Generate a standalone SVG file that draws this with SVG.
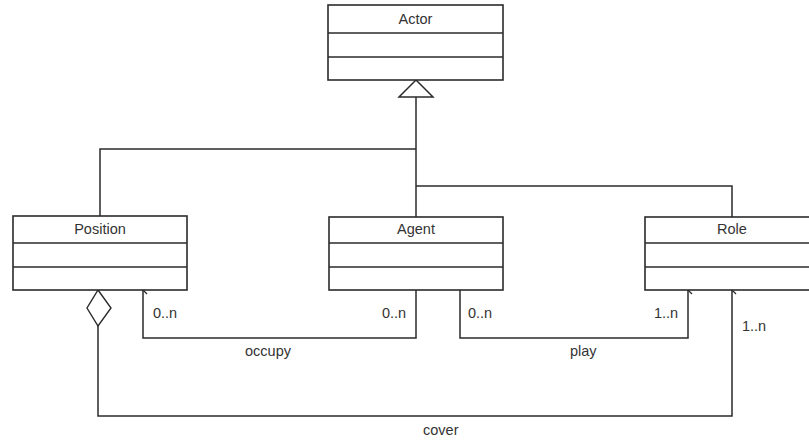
<svg xmlns="http://www.w3.org/2000/svg" width="809" height="444" viewBox="0 0 809 444">
  <style>
    .box { fill: #ffffff; stroke: #2b2b2b; stroke-width: 1.6; }
    .sep { stroke: #2b2b2b; stroke-width: 1.6; }
    .edge { fill: none; stroke: #2b2b2b; stroke-width: 1.5; }
    .name { font-family: "Liberation Sans", Arial, sans-serif; font-size: 14.5px; fill: #333333; text-anchor: middle; }
    .lbl { font-family: "Liberation Sans", Arial, sans-serif; font-size: 14.5px; fill: #333333; }
  </style>
  <defs>
    <marker id="open" viewBox="0 0 10 10" refX="5" refY="1" markerWidth="10" markerHeight="10" markerUnits="userSpaceOnUse" orient="auto-start-reverse">
      <path d="M1,5 L5,1 L9,5" fill="none" stroke="#2b2b2b" stroke-width="1.3"/>
    </marker>
  </defs>
  <rect width="809" height="444" fill="#ffffff"/>

  <!-- connectors -->
  <g id="connectors">
    <!-- generalization tree -->
    <polygon points="416,80 433,97 399,97" fill="#ffffff" stroke="#2b2b2b" stroke-width="1.5"/>
    <path class="edge" d="M416,97 V217" stroke-width="2"/>
    <path class="edge" d="M416,149 H100 V216"/>
    <path class="edge" d="M416,186 H732 V217"/>
    <!-- occupy -->
    <path class="edge" d="M416,290 V338 H143 V290" marker-end="url(#open)"/>
    <!-- play -->
    <path class="edge" d="M460,290 V338 H688 V290" marker-end="url(#open)"/>
    <!-- cover (aggregation) -->
    <polygon points="98,290 111,308 98,326 87,308" fill="#ffffff" stroke="#2b2b2b" stroke-width="1.4"/>
    <path class="edge" d="M98,326 V416 H732 V290" marker-end="url(#open)"/>
    <text class="lbl" x="153" y="318">0..n</text>
    <text class="lbl" x="382" y="318">0..n</text>
    <text class="lbl" x="468" y="318">0..n</text>
    <text class="lbl" x="654" y="318">1..n</text>
    <text class="lbl" x="742" y="331">1..n</text>
    <text class="lbl" x="245" y="356">occupy</text>
    <text class="lbl" x="570" y="356">play</text>
    <text class="lbl" x="423" y="435">cover</text>
  </g>

  <g id="actor">
    <rect class="box" x="328" y="5" width="175" height="75"/>
    <line class="sep" x1="328" y1="33" x2="503" y2="33"/>
    <line class="sep" x1="328" y1="57" x2="503" y2="57"/>
    <text class="name" x="415.5" y="24">Actor</text>
  </g>

  <g id="position">
    <rect class="box" x="13" y="216" width="174" height="74"/>
    <line class="sep" x1="13" y1="243" x2="187" y2="243"/>
    <line class="sep" x1="13" y1="267" x2="187" y2="267"/>
    <text class="name" x="100" y="234">Position</text>
  </g>

  <g id="agent">
    <rect class="box" x="329" y="217" width="174" height="73"/>
    <line class="sep" x1="329" y1="243" x2="503" y2="243"/>
    <line class="sep" x1="329" y1="267" x2="503" y2="267"/>
    <text class="name" x="416" y="234">Agent</text>
  </g>

  <g id="role">
    <rect class="box" x="645" y="217" width="174" height="73"/>
    <line class="sep" x1="645" y1="243" x2="819" y2="243"/>
    <line class="sep" x1="645" y1="267" x2="819" y2="267"/>
    <text class="name" x="732" y="234">Role</text>
  </g>
</svg>
